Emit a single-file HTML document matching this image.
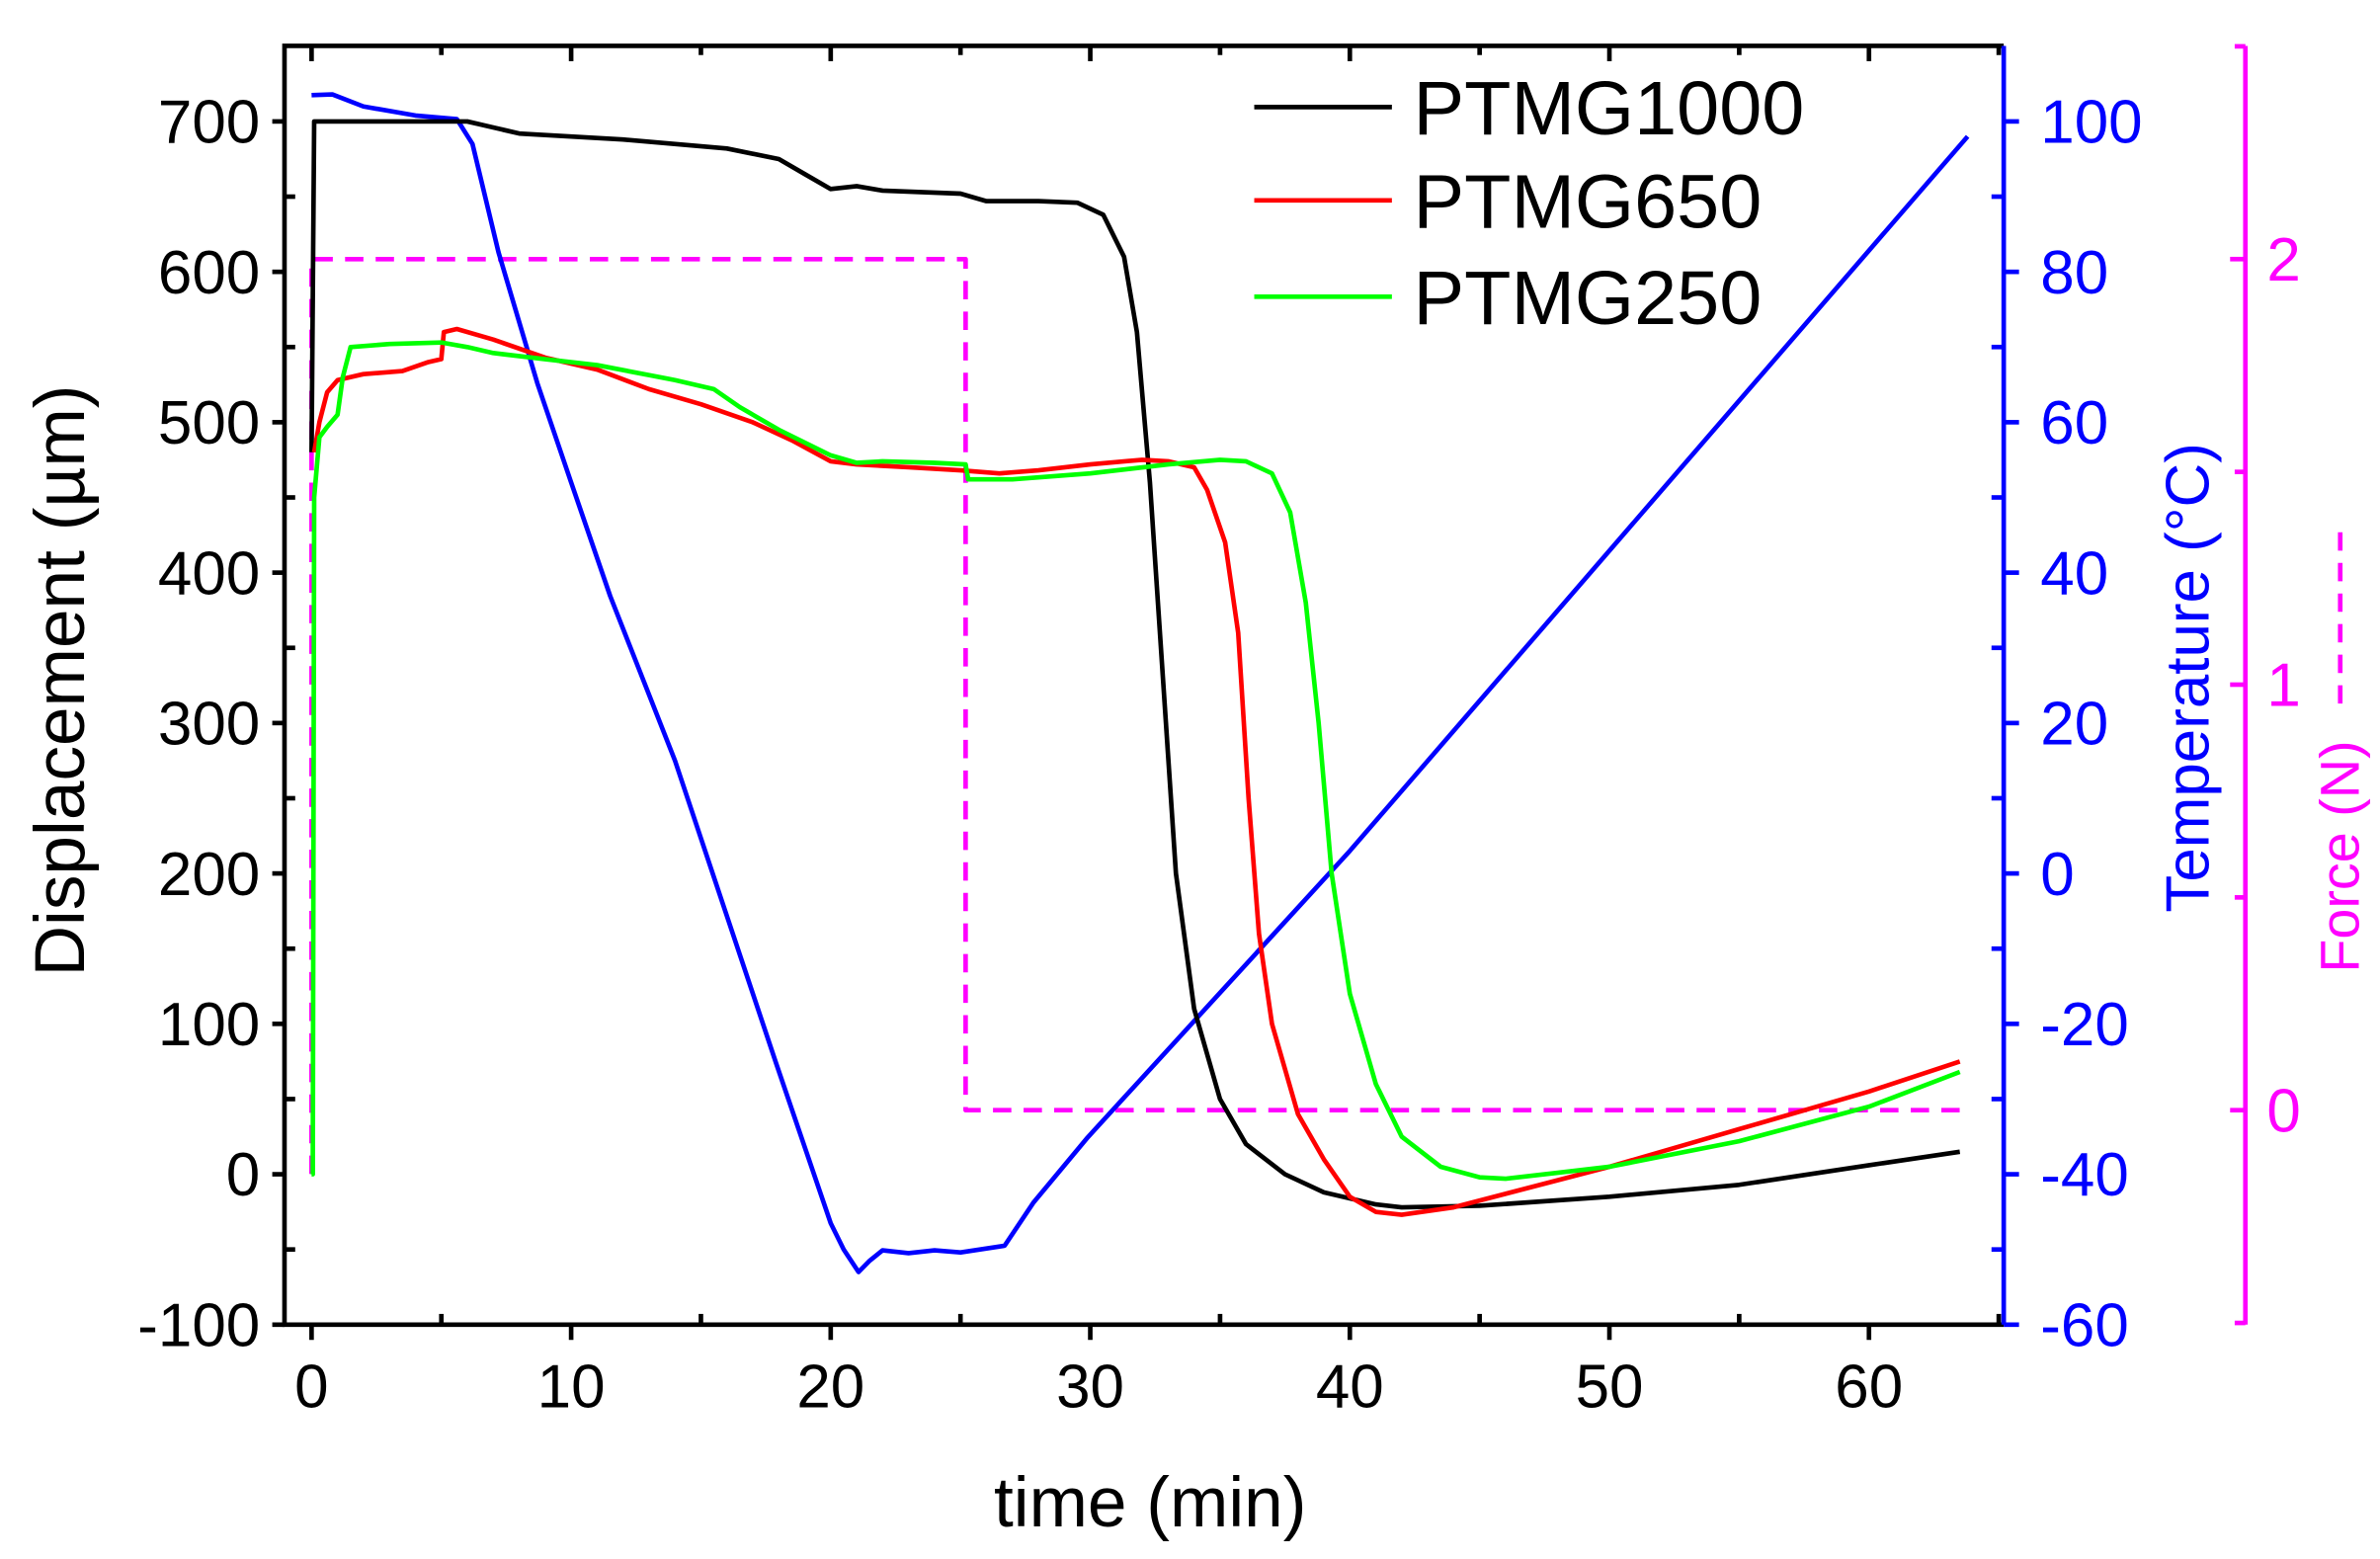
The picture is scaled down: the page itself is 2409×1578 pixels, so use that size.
<!DOCTYPE html>
<html><head><style>html,body{margin:0;padding:0;background:#fff}</style></head>
<body>
<svg width="2409" height="1573" viewBox="0 0 1556 1016" preserveAspectRatio="none" xmlns="http://www.w3.org/2000/svg" font-family="Liberation Sans, Arial, sans-serif">
<rect width="1556" height="1016" fill="#fff"/>
<g id="curves" fill="none" stroke-width="3"></g>
<g id="axes"></g>
<script>
const X=t=>203.7+16.97*t, YL=v=>767.7-v*0.9833, YT=T=>YL(200+5*T), YF=f=>725.8-278.2*f;
const ns="http://www.w3.org/2000/svg";
const g=document.getElementById('curves'), a=document.getElementById('axes');
function el(p,tag,at,txt){const e=document.createElementNS(ns,tag);for(const k in at)e.setAttribute(k,at[k]);if(txt!==undefined)e.textContent=txt;p.appendChild(e);return e;}
function poly(pts,fy,col,extra){el(g,'polyline',Object.assign({points:pts.map(p=>X(p[0]).toFixed(1)+','+fy(p[1]).toFixed(1)).join(' '),stroke:col,'stroke-linejoin':'round'},extra||{}));}
poly([[0,-0.15],[0,2],[25.2,2],[25.2,0],[63.8,0]],YF,'#ff00ff',{'stroke-dasharray':'12,8'});
poly([[0,103.5],[0.8,103.6],[2,102],[4,100.8],[5.6,100.3],[6.2,97],[7.2,82.6],[8.7,65.2],[10,52],[11.5,36.9],[14,15],[15.9,-4.6],[17.9,-25.3],[20,-46.5],[20.5,-50],[21.07,-53],[21.5,-51.5],[22,-50.1],[23,-50.5],[24,-50.1],[25,-50.4],[26.7,-49.5],[27.8,-43.8],[29.9,-35.1],[40,3],[63.8,98]],YT,'#0000ff');
poly([[0,480],[0.1,700],[6,700],[8,692],[12,688],[16,682],[18,675],[19,665],[20,655],[21,657],[22,654],[25,652],[26,647],[28,647],[29.5,646],[30.5,638],[31.3,610],[31.8,560],[32.3,460],[32.8,330],[33.3,200],[34,110],[35,50],[36,20],[37.5,0],[39,-12],[41,-20],[42,-22],[45,-21],[50,-15],[55,-7],[60,6],[63.5,15]],YL,'#000');
poly([[0.1,480],[0.3,500],[0.6,520],[1,528],[2,532],[3.5,534],[4.5,540],[5,542],[5.1,560],[5.6,562],[7,555],[9,543],[11,535],[13,522],[15,512],[17,500],[18.5,488],[20,474],[21,472],[23,470],[25,468],[26.5,466],[28,468],[30,472],[32,475],[33,474],[34,470],[34.5,455],[35.2,420],[35.7,360],[36.1,250],[36.5,160],[37,100],[38,40],[39,10],[40,-15],[41,-25],[42,-27],[44,-22],[50,5],[55,30],[60,55],[63.5,75]],YL,'#ff0000');
poly([[0,0],[0.05,0],[0.1,450],[0.3,490],[0.6,497],[1,505],[1.2,530],[1.5,550],[3,552],[5,553],[6,550],[7,546],[9,542],[11,538],[14,528],[15.5,522],[16.5,510],[18,495],[20,478],[21,473],[22,474],[24,473],[25.2,472],[25.3,462],[27,462],[30,466],[33,472],[35,475],[36,474],[37,466],[37.7,440],[38.3,380],[38.8,300],[39.3,200],[40,120],[41,60],[42,25],[43.5,5],[45,-2],[46,-3],[48,1],[50,5],[55,22],[60,45],[63.5,68]],YL,'#00ff00');
// frame
el(a,'polyline',{points:'1310,30 186,30 186,866 1310,866',fill:'none',stroke:'#000','stroke-width':3});
el(a,'line',{x1:1310,y1:30,x2:1310,y2:866,stroke:'#0000ff','stroke-width':3});
el(a,'line',{x1:1468,y1:30,x2:1468,y2:866,stroke:'#ff00ff','stroke-width':3});
for(let v=-100;v<=700;v+=50){const y=YL(v),maj=v%100==0;el(a,'line',{x1:maj?178:186,y1:y,x2:maj?186:193,y2:y,stroke:'#000','stroke-width':3});if(maj)el(a,'text',{x:170,y:y+14,'text-anchor':'end','font-size':40},v);}
for(let t=0;t<=65;t+=5){const x=X(t),maj=t%10==0;el(a,'line',{x1:x,y1:866,x2:x,y2:maj?876:859,stroke:'#000','stroke-width':3});el(a,'line',{x1:x,y1:30,x2:x,y2:maj?40:36,stroke:'#000','stroke-width':3});if(maj)el(a,'text',{x:x,y:920,'text-anchor':'middle','font-size':40},t);}
for(let T=-60;T<=100;T+=10){const y=YT(T),maj=T%20==0;el(a,'line',{x1:maj?1310:1302,y1:y,x2:maj?1320:1310,y2:y,stroke:'#0000ff','stroke-width':3});if(maj)el(a,'text',{x:1334,y:y+14,'font-size':40,fill:'#0000ff'},T);}
for(let f=-0.5;f<=2.5;f+=0.5){const y=YF(f);if(y<30||y>866)continue;const maj=Math.abs(f-Math.round(f))<1e-6;el(a,'line',{x1:maj?1458:1461,y1:y,x2:1468,y2:y,stroke:'#ff00ff','stroke-width':3});if(maj)el(a,'text',{x:1482,y:y+14,'font-size':40,fill:'#ff00ff'},f);}
el(a,'text',{x:752,y:998,'text-anchor':'middle','font-size':46},'time (min)');
el(a,'text',{transform:'translate(55,445) rotate(-90)','text-anchor':'middle','font-size':46},'Displacement (\u00b5m)');
el(a,'text',{transform:'translate(1444,443) rotate(-90)','text-anchor':'middle','font-size':40,fill:'#0000ff'},'Temperature (\u00b0C)');
el(a,'text',{transform:'translate(1542,636) rotate(-90)','font-size':36,fill:'#ff00ff'},'Force (N)');
el(a,'line',{x1:1530,y1:460,x2:1530,y2:348,stroke:'#ff00ff','stroke-width':3,'stroke-dasharray':'12,8'});
[['PTMG1000','#000',70],['PTMG650','#ff0000',131],['PTMG250','#00ff00',194]].forEach(([n,c,y])=>{el(a,'line',{x1:820,y1:y,x2:910,y2:y,stroke:c,'stroke-width':3});el(a,'text',{x:924,y:y+18,'font-size':50},n);});
</script>
</svg>
</body></html>
